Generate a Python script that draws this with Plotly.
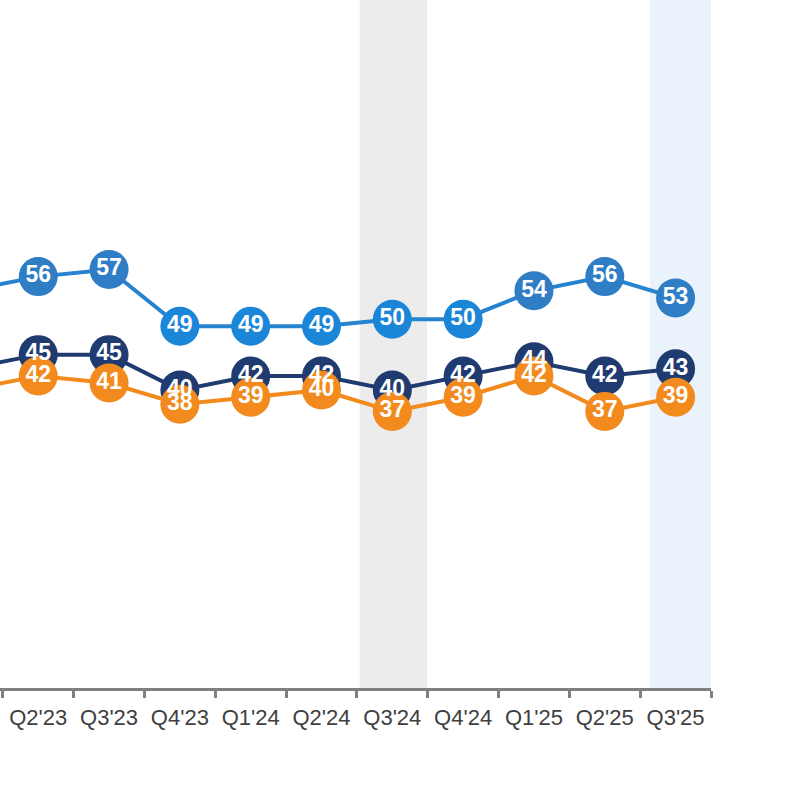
import plotly.graph_objects as go

quarters = ["Q1'23", "Q2'23", "Q3'23", "Q4'23", "Q1'24", "Q2'24",
            "Q3'24", "Q4'24", "Q1'25", "Q2'25", "Q3'25"]
light_vals = [54, 56, 57, 49, 49, 49, 50, 50, 54, 56, 53]
navy_vals = [43, 45, 45, 40, 42, 42, 40, 42, 44, 42, 43]
orange_vals = [40, 42, 41, 38, 39, 40, 37, 39, 42, 37, 39]

# marker shades of the light blue series as they appear in the source
light_marker = ['#2f7dc4'] * 3 + ['#1b86d8'] * 5 + ['#2f7dc4'] * 3

NAVY = '#1f3b70'
ORANGE = '#f28a1e'
LIGHT = '#2683d0'

fig = go.Figure()

# highlighted quarters
fig.add_vrect(x0=5.54, x1=6.49, fillcolor='#ececec', line_width=0, layer='below')
fig.add_vrect(x0=9.64, x1=10.5, fillcolor='#eaf2fb', line_width=0, layer='below')

series = [
    (light_vals, LIGHT, light_marker),
    (navy_vals, NAVY, NAVY),
    (orange_vals, ORANGE, ORANGE),
]

for vals, lc, mc in series:
    fig.add_trace(go.Scatter(
        x=quarters, y=vals, mode='lines+markers',
        line=dict(color=lc, width=4),
        marker=dict(size=39, color=mc),
        showlegend=False, hoverinfo='skip'
    ))

# numbers drawn last so they sit above every circle
# (first quarter sits left of the visible window, so no label there)
for vals, lc, mc in series:
    fig.add_trace(go.Scatter(
        x=quarters[1:], y=vals[1:], mode='text',
        text=[str(v) for v in vals[1:]],
        textposition='middle center',
        textfont=dict(family='Liberation Sans, Arial', size=23, color='white',
                      weight='bold'),
        showlegend=False, hoverinfo='skip'
    ))

fig.update_layout(
    width=800, height=800,
    margin=dict(l=0, r=89, t=0, b=112, autoexpand=False),
    paper_bgcolor='white', plot_bgcolor='white',
    xaxis=dict(
        type='category', range=[0.46, 10.5],
        tickson='boundaries', ticks='outside', ticklen=7, tickwidth=2.5,
        tickcolor='#808080', showline=True, linecolor='#808080', linewidth=2.5,
        showgrid=False, zeroline=False, ticklabelstandoff=8,
        tickfont=dict(family='Liberation Sans, Arial', size=22, color='#404040')
    ),
    yaxis=dict(range=[-2, 95], visible=False, showgrid=False, zeroline=False),
)

fig.write_html("out.html", config={'displayModeBar': False},
               post_script="document.body.style.margin='0';")
